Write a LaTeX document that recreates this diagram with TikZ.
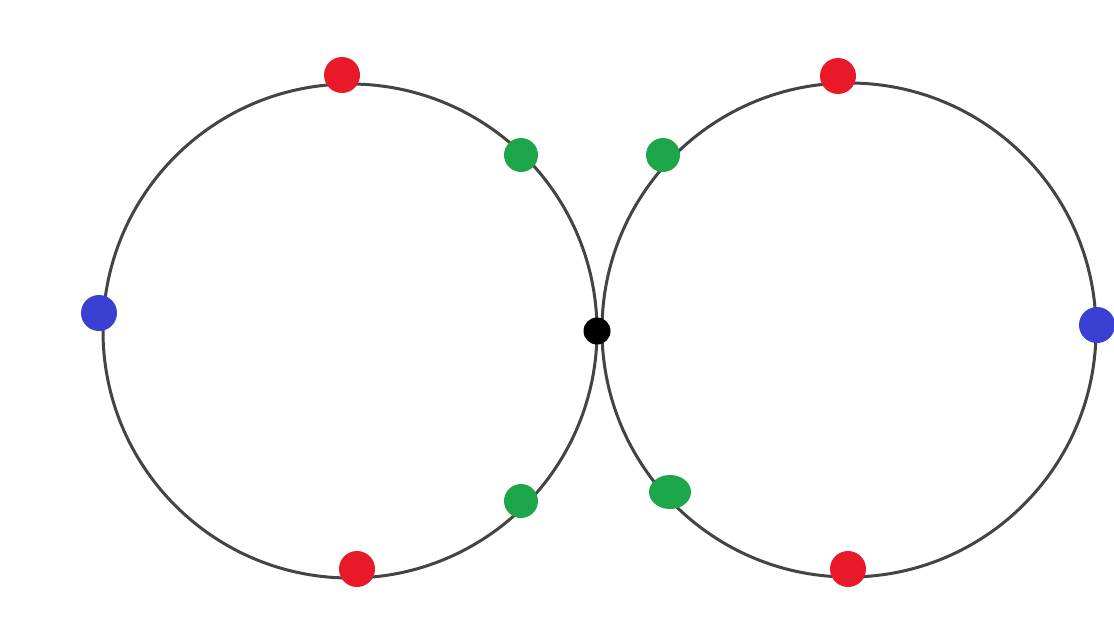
\documentclass[tikz,border=0pt]{standalone}
\usetikzlibrary{shapes.geometric}
\definecolor{dred}{HTML}{E81A2A}
\definecolor{dgreen}{HTML}{1EA64A}
\definecolor{dblue}{HTML}{3A40D2}
\definecolor{ring}{HTML}{444444}
\begin{document}
\begin{tikzpicture}[x=1pt,y=-1pt,
  ringline/.style={draw=ring,line width=3pt},
  dot/.style={rounded rectangle,inner sep=0pt,minimum size=#1},
  dot/.style={circle,inner sep=0pt,minimum size=#1},
  reddot/.style={dot=36pt,fill=dred},
  greendot/.style={dot=34pt,fill=dgreen},
  bluedot/.style={dot=36pt,fill=dblue},
  blackdot/.style={dot=27pt,fill=black}]
\useasboundingbox (0,0) rectangle (1114,637);
\fill[white] (0,0) rectangle (1114,637);
\coordinate (cl) at (350,331);
\coordinate (cr) at (849,330);
\draw[ringline] (cl) circle[radius=247];
\draw[ringline] (cr) circle[radius=247];
\node[reddot] (rl1) at (342,75) {};
\node[reddot] (rl2) at (357,569) {};
\node[greendot] (gl1) at (521,155) {};
\node[greendot] (gl2) at (521,501) {};
\node[bluedot] (bl) at (99,313) {};
\node[reddot] (rr1) at (838,76) {};
\node[reddot] (rr2) at (848,569) {};
\node[greendot] (gr1) at (663,155) {};
\node[ellipse,inner sep=0pt,fill=dgreen,minimum width=42pt,minimum height=34pt] (gr2) at (670,492) {};
\node[bluedot] (br) at (1097,325) {};
\node[blackdot] (bk) at (597,331) {};
\end{tikzpicture}
\end{document}
